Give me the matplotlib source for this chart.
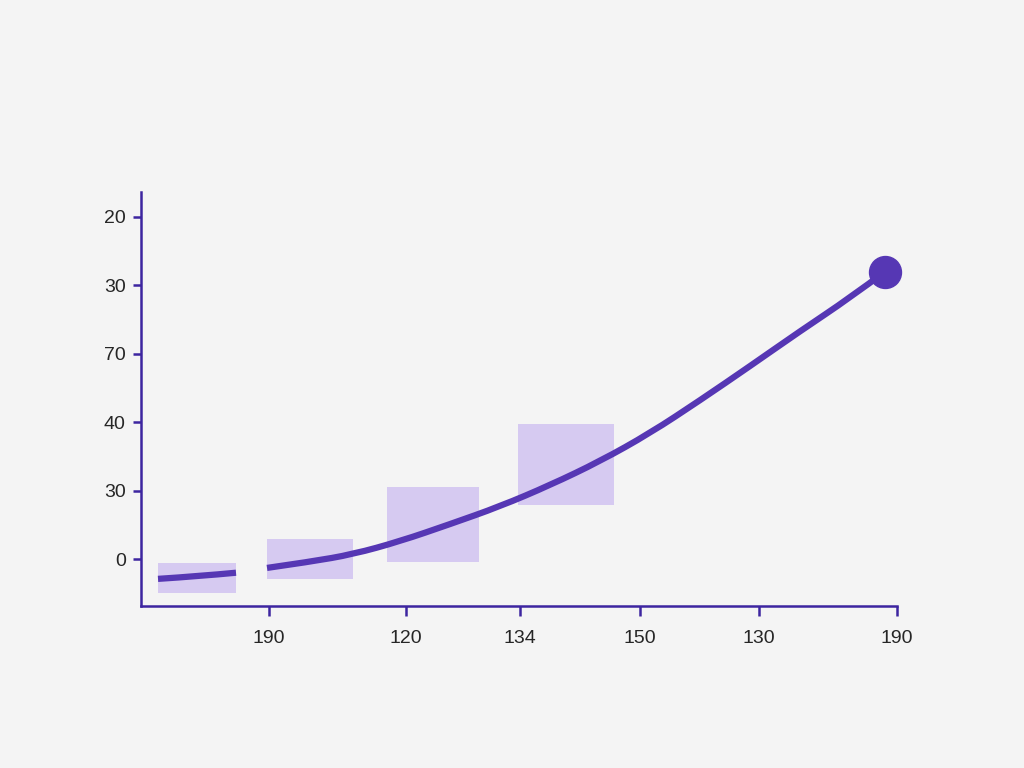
import numpy as np
import matplotlib.pyplot as plt
from matplotlib.patches import Rectangle, PathPatch
from matplotlib.path import Path

# curve, drawn in two pieces (there is a gap between them)
curve1_x = [0.17, 0.59, 0.95]
curve1_y = [-0.29, -0.25, -0.20]
curve2_x = [1.26, 1.69, 2.12, 2.59, 3.09, 3.59, 4.09, 4.59, 5.09, 5.59, 6.09, 6.59, 7.09, 7.44]
curve2_y = [-0.13, -0.04, 0.07, 0.26, 0.51, 0.77, 1.08, 1.43, 1.84, 2.32, 2.82, 3.33, 3.82, 4.20]

# shaded boxes: left, right, bottom, top
box_x0 = [0.17, 1.26, 2.46, 3.77]
box_x1 = [0.95, 2.12, 3.38, 4.73]
box_y0 = [-0.50, -0.29, -0.04, 0.79]
box_y1 = [-0.06, 0.29, 1.05, 1.97]

xtick_pos = [1.28, 2.65, 3.79, 4.99, 6.18, 7.56]
xtick_lab = ["190", "120", "134", "150", "130", "190"]
ytick_pos = [0, 1, 2, 3, 4, 5]
ytick_lab = ["0", "30", "40", "70", "30", "20"]

bg = "#f4f4f4"
line_col = "#5637b4"
axis_col = "#3d25a0"
box_col = "#d6caf1"

plt.rcParams['font.family'] = ['Liberation Sans', 'DejaVu Sans']


def smooth_path(xs, ys):
    # quadratic bezier through the midpoints, so the line has no corners
    pts = list(zip(xs, ys))
    verts = [pts[0]]
    codes = [Path.MOVETO]
    for i in range(1, len(pts) - 1):
        mid = ((pts[i][0] + pts[i + 1][0]) / 2, (pts[i][1] + pts[i + 1][1]) / 2)
        if i == len(pts) - 2:
            mid = pts[-1]
        verts += [pts[i], mid]
        codes += [Path.CURVE3, Path.CURVE3]
    if len(pts) == 2:
        verts.append(pts[1])
        codes.append(Path.LINETO)
    return Path(verts, codes)


fig = plt.figure(figsize=(10.24, 7.68), dpi=100, facecolor=bg)
ax = fig.add_axes([0.1377, 0.2109, 0.7383, 0.5391])
ax.set_facecolor(bg)

for x0, x1, y0, y1 in zip(box_x0, box_x1, box_y0, box_y1):
    ax.add_patch(Rectangle((x0, y0), x1 - x0, y1 - y0, facecolor=box_col, edgecolor='none', zorder=1))

for xs, ys in [(curve1_x, curve1_y), (curve2_x, curve2_y)]:
    ax.add_patch(PathPatch(smooth_path(xs, ys), facecolor='none', edgecolor=line_col,
                           lw=4.5, capstyle='butt', zorder=2))
ax.plot(curve2_x[-1], curve2_y[-1], 'o', color=line_col, ms=23, clip_on=False, zorder=3)

ax.set_xlim(0, 7.56)
ax.set_ylim(-0.687, 5.365)
ax.set_xticks(xtick_pos)
ax.set_xticklabels(xtick_lab)
ax.set_yticks(ytick_pos)
ax.set_yticklabels(ytick_lab)

for s in ['top', 'right']:
    ax.spines[s].set_visible(False)
for s in ['left', 'bottom']:
    ax.spines[s].set_color(axis_col)
    ax.spines[s].set_linewidth(1.8)

ax.tick_params(axis='x', length=7, width=1.8, color=axis_col, pad=10, labelsize=14, labelcolor='#262626')
ax.tick_params(axis='y', length=6, width=1.8, color=axis_col, pad=5, labelsize=14, labelcolor='#262626')

fig.savefig("out.png", dpi=100, facecolor=bg)
